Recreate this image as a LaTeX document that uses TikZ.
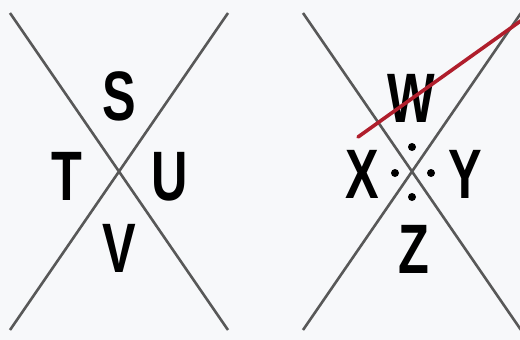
\documentclass[tikz,border=0pt]{standalone}
\usepackage{fontspec}
\setmainfont{Liberation Sans}
\definecolor{bg}{HTML}{F7F8FA}
\definecolor{xline}{HTML}{585858}
\definecolor{redline}{HTML}{B01E2C}
\tikzset{
  letter/.style={anchor=base, inner sep=0pt, font=\fontsize{70}{70}\selectfont\bfseries},
  xstroke/.style={draw=xline, line width=2.6pt},
  dotmark/.style={fill=black},
}
\newcommand{\nar}[1]{\scalebox{0.72}[1]{#1}}
\begin{document}
\begin{tikzpicture}[x=1pt,y=-1pt]
\useasboundingbox[fill=bg] (0,0) rectangle (520,340);
% left cross
\coordinate (a1) at (10,13);
\coordinate (a2) at (228,330);
\coordinate (a3) at (228,13);
\coordinate (a4) at (10,330);
\draw[xstroke] (a1) -- (a2);
\draw[xstroke] (a3) -- (a4);
\node[letter] (S) at (119,120) {\nar{S}};
\node[letter] (T) at (67,200) {\nar{T}};
\node[letter] (U) at (170,200) {\nar{U}};
\node[letter] (V) at (119,272) {\nar{V}};
% right cross
\coordinate (b1) at (303,13);
\coordinate (b2) at (521,330);
\coordinate (b3) at (521,13);
\coordinate (b4) at (303,330);
\draw[xstroke] (b1) -- (b2);
\draw[xstroke] (b3) -- (b4);
\node[letter] (W) at (411,122) {\nar{W}};
\node[letter] (X) at (362,198) {\nar{X}};
\node[letter] (Y) at (465,198) {\nar{Y}};
\node[letter] (Z) at (414,273) {\nar{Z}};
\fill[dotmark] (412,147) circle (4pt);
\fill[dotmark] (395,173) circle (4pt);
\fill[dotmark] (431,173) circle (4pt);
\fill[dotmark] (412,197) circle (4pt);
% red stroke
\coordinate (r1) at (358,137);
\coordinate (r2) at (522,20);
\draw[redline, line width=3.6pt, line cap=round] (r1) -- (r2);
\end{tikzpicture}
\end{document}
